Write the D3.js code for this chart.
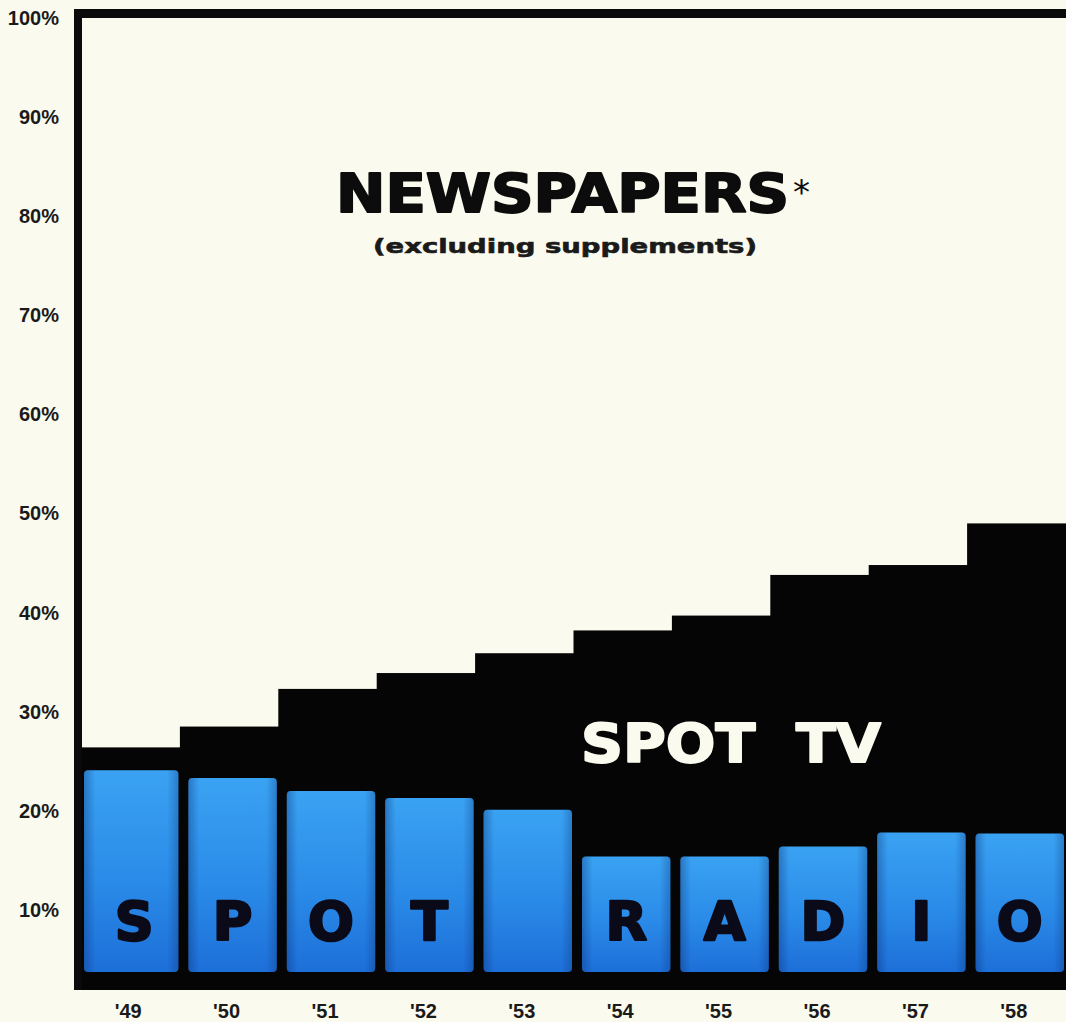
<!DOCTYPE html>
<html>
<head>
<meta charset="utf-8">
<script src="https://cdn.jsdelivr.net/npm/d3@7"></script>
<style>
  html, body { margin: 0; padding: 0; background: #fbfaef; }
  svg { display: block; }
</style>
</head>
<body>
<figure id="chart" style="margin:0"></figure>
<script>
// chart data (percent share of spot budget)
const years = ["'49", "'50", "'51", "'52", "'53", "'54", "'55", "'56", "'57", "'58"];
const spotRadio = [24.1, 23.3, 22.0, 21.3, 20.1, 15.4, 15.4, 16.4, 17.8, 17.7];
const radioPlusTv = [26.4, 28.5, 32.3, 33.9, 35.9, 38.2, 39.7, 43.8, 44.8, 49.0];
const barLetters = ["S", "P", "O", "T", "", "R", "A", "D", "I", "O"];
const yTicks = [10, 20, 30, 40, 50, 60, 70, 80, 90, 100];

const width = 1066;
const height = 1022;
const plotLeft = 82;
const plotRight = 1066;
const barBottom = 972;
const baseBottom = 990;

const svg = d3.select("#chart")
  .append("svg")
    .attr("width", width)
    .attr("height", height);

svg.append("rect")
  .attr("width", width)
  .attr("height", height)
  .attr("fill", "#fbfaef");

const defs = svg.append("defs");
const grad = defs.append("linearGradient")
  .attr("id", "blue")
  .attr("x1", 0).attr("y1", 0).attr("x2", 0).attr("y2", 1);
grad.append("stop").attr("offset", "0%").attr("stop-color", "#3aa2f2");
grad.append("stop").attr("offset", "55%").attr("stop-color", "#2a8be8");
grad.append("stop").attr("offset", "100%").attr("stop-color", "#1d6fd8");

const side = defs.append("linearGradient")
  .attr("id", "side")
  .attr("x1", 0).attr("y1", 0).attr("x2", 1).attr("y2", 0);
side.append("stop").attr("offset", "0%").attr("stop-color", "#0a2a6a").attr("stop-opacity", 0.35);
side.append("stop").attr("offset", "12%").attr("stop-color", "#0a2a6a").attr("stop-opacity", 0);
side.append("stop").attr("offset", "88%").attr("stop-color", "#0a2a6a").attr("stop-opacity", 0);
side.append("stop").attr("offset", "100%").attr("stop-color", "#0a2a6a").attr("stop-opacity", 0.3);

// scales
const x = d3.scaleBand()
  .domain(years)
  .range([plotLeft, plotRight]);

const y = d3.scaleLinear()
  .domain([0, 100])
  .range([1009, 18]);

// top and left frame
svg.append("rect")
  .attr("x", 74).attr("y", 9)
  .attr("width", plotRight - 74).attr("height", 9)
  .attr("fill", "#0b0b0b");
svg.append("rect")
  .attr("x", 74).attr("y", 9)
  .attr("width", 8).attr("height", baseBottom - 9)
  .attr("fill", "#0b0b0b");

// spot TV (black stepped area)
svg.selectAll("rect.tv")
  .data(years)
  .enter()
  .append("rect")
    .attr("class", "tv")
    .attr("x", d => x(d) - 0.5)
    .attr("y", (d, i) => y(radioPlusTv[i]))
    .attr("width", x.bandwidth() + 1)
    .attr("height", (d, i) => baseBottom - y(radioPlusTv[i]))
    .attr("fill", "#050505");

// spot radio (blue bars)
const inL = 8, inR = 2;
svg.selectAll("rect.radio")
  .data(years)
  .enter()
  .append("rect")
    .attr("class", "radio")
    .attr("x", (d, i) => x(d) + (i === 0 ? 2 : inL))
    .attr("y", (d, i) => y(spotRadio[i]))
    .attr("width", (d, i) => x.bandwidth() - (i === 0 ? 2 : inL) - inR)
    .attr("height", (d, i) => barBottom - y(spotRadio[i]))
    .attr("rx", 4)
    .attr("fill", "url(#blue)");

svg.selectAll("rect.shade")
  .data(years)
  .enter()
  .append("rect")
    .attr("class", "shade")
    .attr("x", (d, i) => x(d) + (i === 0 ? 2 : inL))
    .attr("y", (d, i) => y(spotRadio[i]))
    .attr("width", (d, i) => x.bandwidth() - (i === 0 ? 2 : inL) - inR)
    .attr("height", (d, i) => barBottom - y(spotRadio[i]))
    .attr("rx", 4)
    .attr("fill", "url(#side)");

// letters in bars
svg.selectAll("text.letter")
  .data(years)
  .enter()
  .append("text")
    .attr("class", "letter")
    .attr("x", d => x(d) + inL + (x.bandwidth() - inL - inR) / 2)
    .attr("y", 940)
    .attr("text-anchor", "middle")
    .style("font-family", "'DejaVu Sans', sans-serif")
    .style("font-weight", "bold")
    .style("font-size", "54px")
    .attr("fill", "#0a0a18")
    .attr("stroke", "#0a0a18")
    .attr("stroke-width", 2.5)
    .attr("stroke-linejoin", "round")
    .text((d, i) => barLetters[i]);

// y axis labels
const yAxis = svg.append("g")
  .attr("transform", "translate(59,0)")
  .call(d3.axisLeft(y).tickValues(yTicks).tickSize(0).tickPadding(0).tickFormat(d => d + "%"));
yAxis.select(".domain").remove();
yAxis.selectAll("text")
  .style("font-family", "'Liberation Sans Narrow', 'Liberation Sans', sans-serif")
  .style("font-weight", "bold")
  .style("font-size", "20px")
  .attr("fill", "#1a1a1a");

// x axis labels
const xAxis = svg.append("g")
  .attr("transform", "translate(-3," + 1000 + ")")
  .call(d3.axisBottom(x).tickSize(0).tickPadding(4));
xAxis.select(".domain").remove();
xAxis.selectAll("text")
  .style("font-family", "'Liberation Sans Narrow', 'Liberation Sans', sans-serif")
  .style("font-weight", "bold")
  .style("font-size", "20px")
  .attr("fill", "#1a1a1a");

// area titles
svg.append("text")
  .attr("x", 336).attr("y", 212)
  .attr("textLength", 453)
  .attr("lengthAdjust", "spacingAndGlyphs")
  .style("font-family", "'DejaVu Sans', sans-serif")
  .style("font-weight", "bold")
  .style("font-size", "54px")
  .attr("fill", "#0c0c0c")
  .attr("stroke", "#0c0c0c")
  .attr("stroke-width", 2)
  .attr("stroke-linejoin", "round")
  .text("NEWSPAPERS");
svg.append("text")
  .attr("x", 793).attr("y", 204)
  .style("font-family", "'DejaVu Sans', sans-serif")
  .style("font-size", "34px")
  .attr("fill", "#0c0c0c")
  .text("*");

svg.append("text")
  .attr("x", 565).attr("y", 253)
  .attr("text-anchor", "middle")
  .attr("textLength", 384)
  .attr("lengthAdjust", "spacingAndGlyphs")
  .style("font-family", "'DejaVu Sans', sans-serif")
  .style("font-weight", "bold")
  .style("font-size", "20px")
  .attr("fill", "#1a1a1a")
  .attr("stroke", "#1a1a1a")
  .attr("stroke-width", 0.6)
  .text("(excluding supplements)");

svg.append("text")
  .attr("x", 581).attr("y", 762)
  .attr("textLength", 300)
  .attr("lengthAdjust", "spacingAndGlyphs")
  .style("font-family", "'DejaVu Sans', sans-serif")
  .style("font-weight", "bold")
  .style("font-size", "54px")
  .attr("fill", "#fbfaef")
  .attr("stroke", "#fbfaef")
  .attr("stroke-width", 2)
  .attr("stroke-linejoin", "round")
  .text("SPOT\u00a0\u00a0TV");
</script>
</body>
</html>
